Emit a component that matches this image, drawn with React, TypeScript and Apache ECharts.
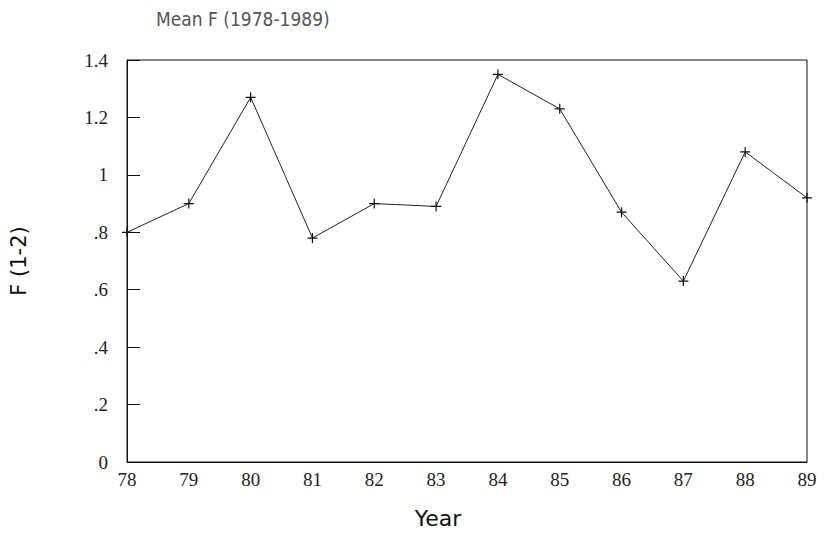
import React, { useEffect, useRef } from "react";
import * as echarts from "echarts";

const years = ["78", "79", "80", "81", "82", "83", "84", "85", "86", "87", "88", "89"];
const meanF = [0.8, 0.9, 1.27, 0.78, 0.9, 0.89, 1.35, 1.23, 0.87, 0.63, 1.08, 0.92];
const yTickLabels: Record<string, string> = {
  "0": "0", "0.2": ".2", "0.4": ".4", "0.6": ".6", "0.8": ".8", "1": "1", "1.2": "1.2", "1.4": "1.4",
};

export default function App() {
  const ref = useRef<HTMLDivElement>(null);
  useEffect(() => {
    if (!ref.current) return;
    const chart = echarts.init(ref.current, undefined, { renderer: "svg" });
    chart.setOption({
      animation: false,
      backgroundColor: "#fff",
      title: {
        text: "Mean F (1978-1989)",
        left: 151,
        top: 4,
        textStyle: { fontFamily: "DejaVu Sans Condensed, DejaVu Sans", fontWeight: "normal", fontSize: 19, color: "#555" },
      },
      grid: { left: 126, right: 18, top: 60, bottom: 72, show: true, borderColor: "#111", borderWidth: 1, backgroundColor: "transparent" },
      xAxis: {
        type: "category",
        data: years,
        boundaryGap: false,
        name: "Year",
        nameLocation: "middle",
        nameGap: 45,
        nameTextStyle: { fontFamily: "DejaVu Sans", fontSize: 22, color: "#111", padding: [0, 58, 0, 0] },
        axisLine: { lineStyle: { color: "#111", width: 1 } },
        axisTick: { show: false },
        axisLabel: { fontFamily: "Liberation Sans Narrow, Liberation Serif", fontSize: 19, color: "#222", margin: 8 },
        splitLine: { show: false },
      },
      yAxis: {
        type: "value",
        min: 0,
        max: 1.4,
        interval: 0.2,
        name: "F (1-2)",
        nameLocation: "middle",
        nameGap: 98,
        nameRotate: 90,
        nameTextStyle: { fontFamily: "DejaVu Sans", fontSize: 21, color: "#111" },
        axisLine: { show: true, lineStyle: { color: "#111", width: 1 } },
        axisTick: { show: true, inside: true, length: 13, lineStyle: { color: "#111" } },
        axisLabel: {
          fontFamily: "Liberation Sans Narrow, Liberation Serif",
          fontSize: 19,
          color: "#222",
          margin: 19,
          formatter: (v: number) => yTickLabels[String(Math.round(v * 10) / 10)] ?? String(v),
        },
        splitLine: { show: false },
      },
      series: [
        {
          type: "line",
          data: meanF,
          symbol: "path://M0,5 L10,5 M5,0 L5,10",
          symbolSize: 10,
          itemStyle: { color: "none", borderColor: "#111", borderWidth: 1.2 },
          lineStyle: { color: "#222", width: 1 },
        },
      ],
    });
    return () => chart.dispose();
  }, []);
  return <div ref={ref} style={{ width: 825, height: 534, position: "absolute", left: 0, top: 0 }} />;
}
